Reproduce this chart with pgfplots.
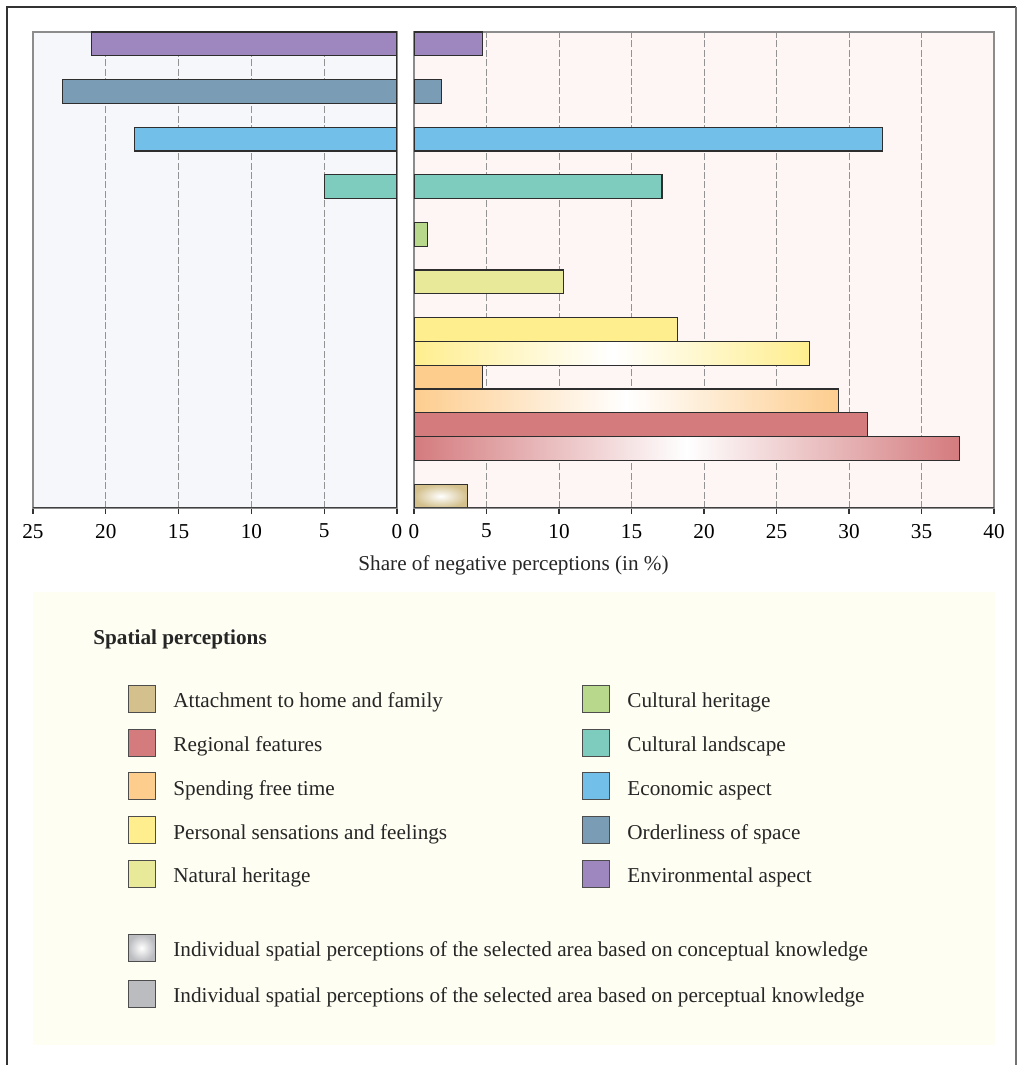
\documentclass[border=0pt]{standalone}
\usepackage{pgfplots}
\pgfplotsset{compat=1.18}
\usepackage{fontspec}
\setmainfont{Liberation Serif}

\definecolor{envc}{HTML}{9E87BE}
\definecolor{ordc}{HTML}{7A9DB5}
\definecolor{ecoc}{HTML}{72C0EA}
\definecolor{clandc}{HTML}{7DCCBE}
\definecolor{cherc}{HTML}{B8D98B}
\definecolor{natc}{HTML}{E8EA9A}
\definecolor{persc}{HTML}{FFEE8E}
\definecolor{spendc}{HTML}{FDCD8E}
\definecolor{regc}{HTML}{D47B7E}
\definecolor{homec}{HTML}{D3C08C}
\definecolor{greyc}{HTML}{BBBCC0}
\definecolor{leftbg}{HTML}{F5F7FB}
\definecolor{rightbg}{HTML}{FEF6F4}
\definecolor{legbg}{HTML}{FEFEF3}
\definecolor{edge}{HTML}{2E2E2E}

\newcommand\lfont{\fontsize{10.6}{12}\selectfont}

\pgfplotsset{
  panel/.style={
    scale only axis, height=238pt, ymin=0, ymax=20, ytick=\empty,
    xtick pos=bottom, tick align=outside, major tick length=3pt,
    xmajorgrids,
    major grid style={gray!85, dash pattern=on 3.5pt off 1.2pt, line width=0.45pt},
    axis line style={black!45, line width=0.8pt},
    tick style={black!80, line width=0.6pt},
    /pgf/number format/assume math mode=true,
    ticklabel style={font=\lfont},
    xticklabel style={yshift=-1.5pt},
  },
  hbar/.style={xbar, bar shift=0pt, bar width=11.9pt, draw=edge, line width=0.55pt},
}

% legend entry: x, y centre, swatch style, text
\newcommand\legitem[4]{%
  \begin{scope}[shift={(#1,#2)}]
    \draw[edge!85, line width=0.5pt, #3] (0pt,-6.75pt) rectangle (13.5pt,6.75pt);
    \node[anchor=base west, inner sep=0pt, font=\lfont, text=black!85] at (22.5pt,-4.5pt) {#4};
  \end{scope}}

\begin{document}
\begin{tikzpicture}
\useasboundingbox (0,0) rectangle (508.5pt,532.5pt);

% left panel: positive side shown reversed
\begin{axis}[panel, at={(16.5pt,278.5pt)}, anchor=south west, width=182pt,
  xmin=0, xmax=25, x dir=reverse, xtick={0,5,...,25},
  axis background/.style={fill=leftbg}]
  \addplot[hbar, fill=envc]   coordinates {(21,19.5)};
  \addplot[hbar, fill=ordc]   coordinates {(23,17.5)};
  \addplot[hbar, fill=ecoc]   coordinates {(18,15.5)};
  \addplot[hbar, fill=clandc] coordinates {(5,13.5)};
  \draw[edge, line width=0.7pt] (axis cs:0,0) -- (axis cs:0,20);
  \draw[black!75, line width=0.8pt] (axis cs:25,0) -- (axis cs:0,0);
\end{axis}

% right panel
\begin{axis}[panel, at={(207pt,278.5pt)}, anchor=south west, width=290pt,
  xmin=0, xmax=40, xtick={0,5,...,40},
  axis background/.style={fill=rightbg}]
  \addplot[hbar, fill=envc]   coordinates {(4.7,19.5)};
  \addplot[hbar, fill=ordc]   coordinates {(1.9,17.5)};
  \addplot[hbar, fill=ecoc]   coordinates {(32.3,15.5)};
  \addplot[hbar, fill=clandc] coordinates {(17.1,13.5)};
  \addplot[hbar, fill=cherc]  coordinates {(0.9,11.5)};
  \addplot[hbar, fill=natc]   coordinates {(10.3,9.5)};
  \addplot[hbar, fill=persc]  coordinates {(18.2,7.5)};
  \addplot[hbar, left color=persc, right color=persc, middle color=white] coordinates {(27.3,6.5)};
  \addplot[hbar, fill=spendc] coordinates {(4.7,5.5)};
  \addplot[hbar, left color=spendc, right color=spendc, middle color=white] coordinates {(29.3,4.5)};
  \addplot[hbar, fill=regc]   coordinates {(31.3,3.5)};
  \addplot[hbar, left color=regc, right color=regc, middle color=white] coordinates {(37.6,2.5)};
  \addplot[hbar, inner color=white, outer color=homec] coordinates {(3.7,0.5)};
  \draw[black!75, line width=0.8pt] (axis cs:0,0) -- (axis cs:40,0);
\end{axis}

\node[font=\lfont, text=black!85] at (256.75pt,250pt) {Share of negative perceptions (in \%)};

% legend
\fill[legbg] (16.5pt,10pt) rectangle (497.5pt,236.5pt);
\node[anchor=base west, inner sep=0pt, font=\bfseries\lfont, text=black!85] at (46.5pt,210pt) {Spatial perceptions};

\legitem{64pt}{183pt}{fill=homec}{Attachment to home and family}
\legitem{64pt}{161.15pt}{fill=regc}{Regional features}
\legitem{64pt}{139.35pt}{fill=spendc}{Spending free time}
\legitem{64pt}{117.35pt}{fill=persc}{Personal sensations and feelings}
\legitem{64pt}{95.5pt}{fill=natc}{Natural heritage}

\legitem{291pt}{183pt}{fill=cherc}{Cultural heritage}
\legitem{291pt}{161.15pt}{fill=clandc}{Cultural landscape}
\legitem{291pt}{139.35pt}{fill=ecoc}{Economic aspect}
\legitem{291pt}{117.35pt}{fill=ordc}{Orderliness of space}
\legitem{291pt}{95.5pt}{fill=envc}{Environmental aspect}

\legitem{64pt}{58.5pt}{inner color=white, outer color=greyc}{Individual spatial perceptions of the selected area based on conceptual knowledge}
\legitem{64pt}{35.5pt}{fill=greyc}{Individual spatial perceptions of the selected area based on perceptual knowledge}

% outer frame
\draw[black!80, line width=1pt] (3.25pt,-20pt) -- (3.25pt,528.75pt) -- (508pt,528.75pt);
\draw[black!55, line width=0.6pt] (508pt,528.75pt) -- (508pt,-20pt);
\end{tikzpicture}
\end{document}
